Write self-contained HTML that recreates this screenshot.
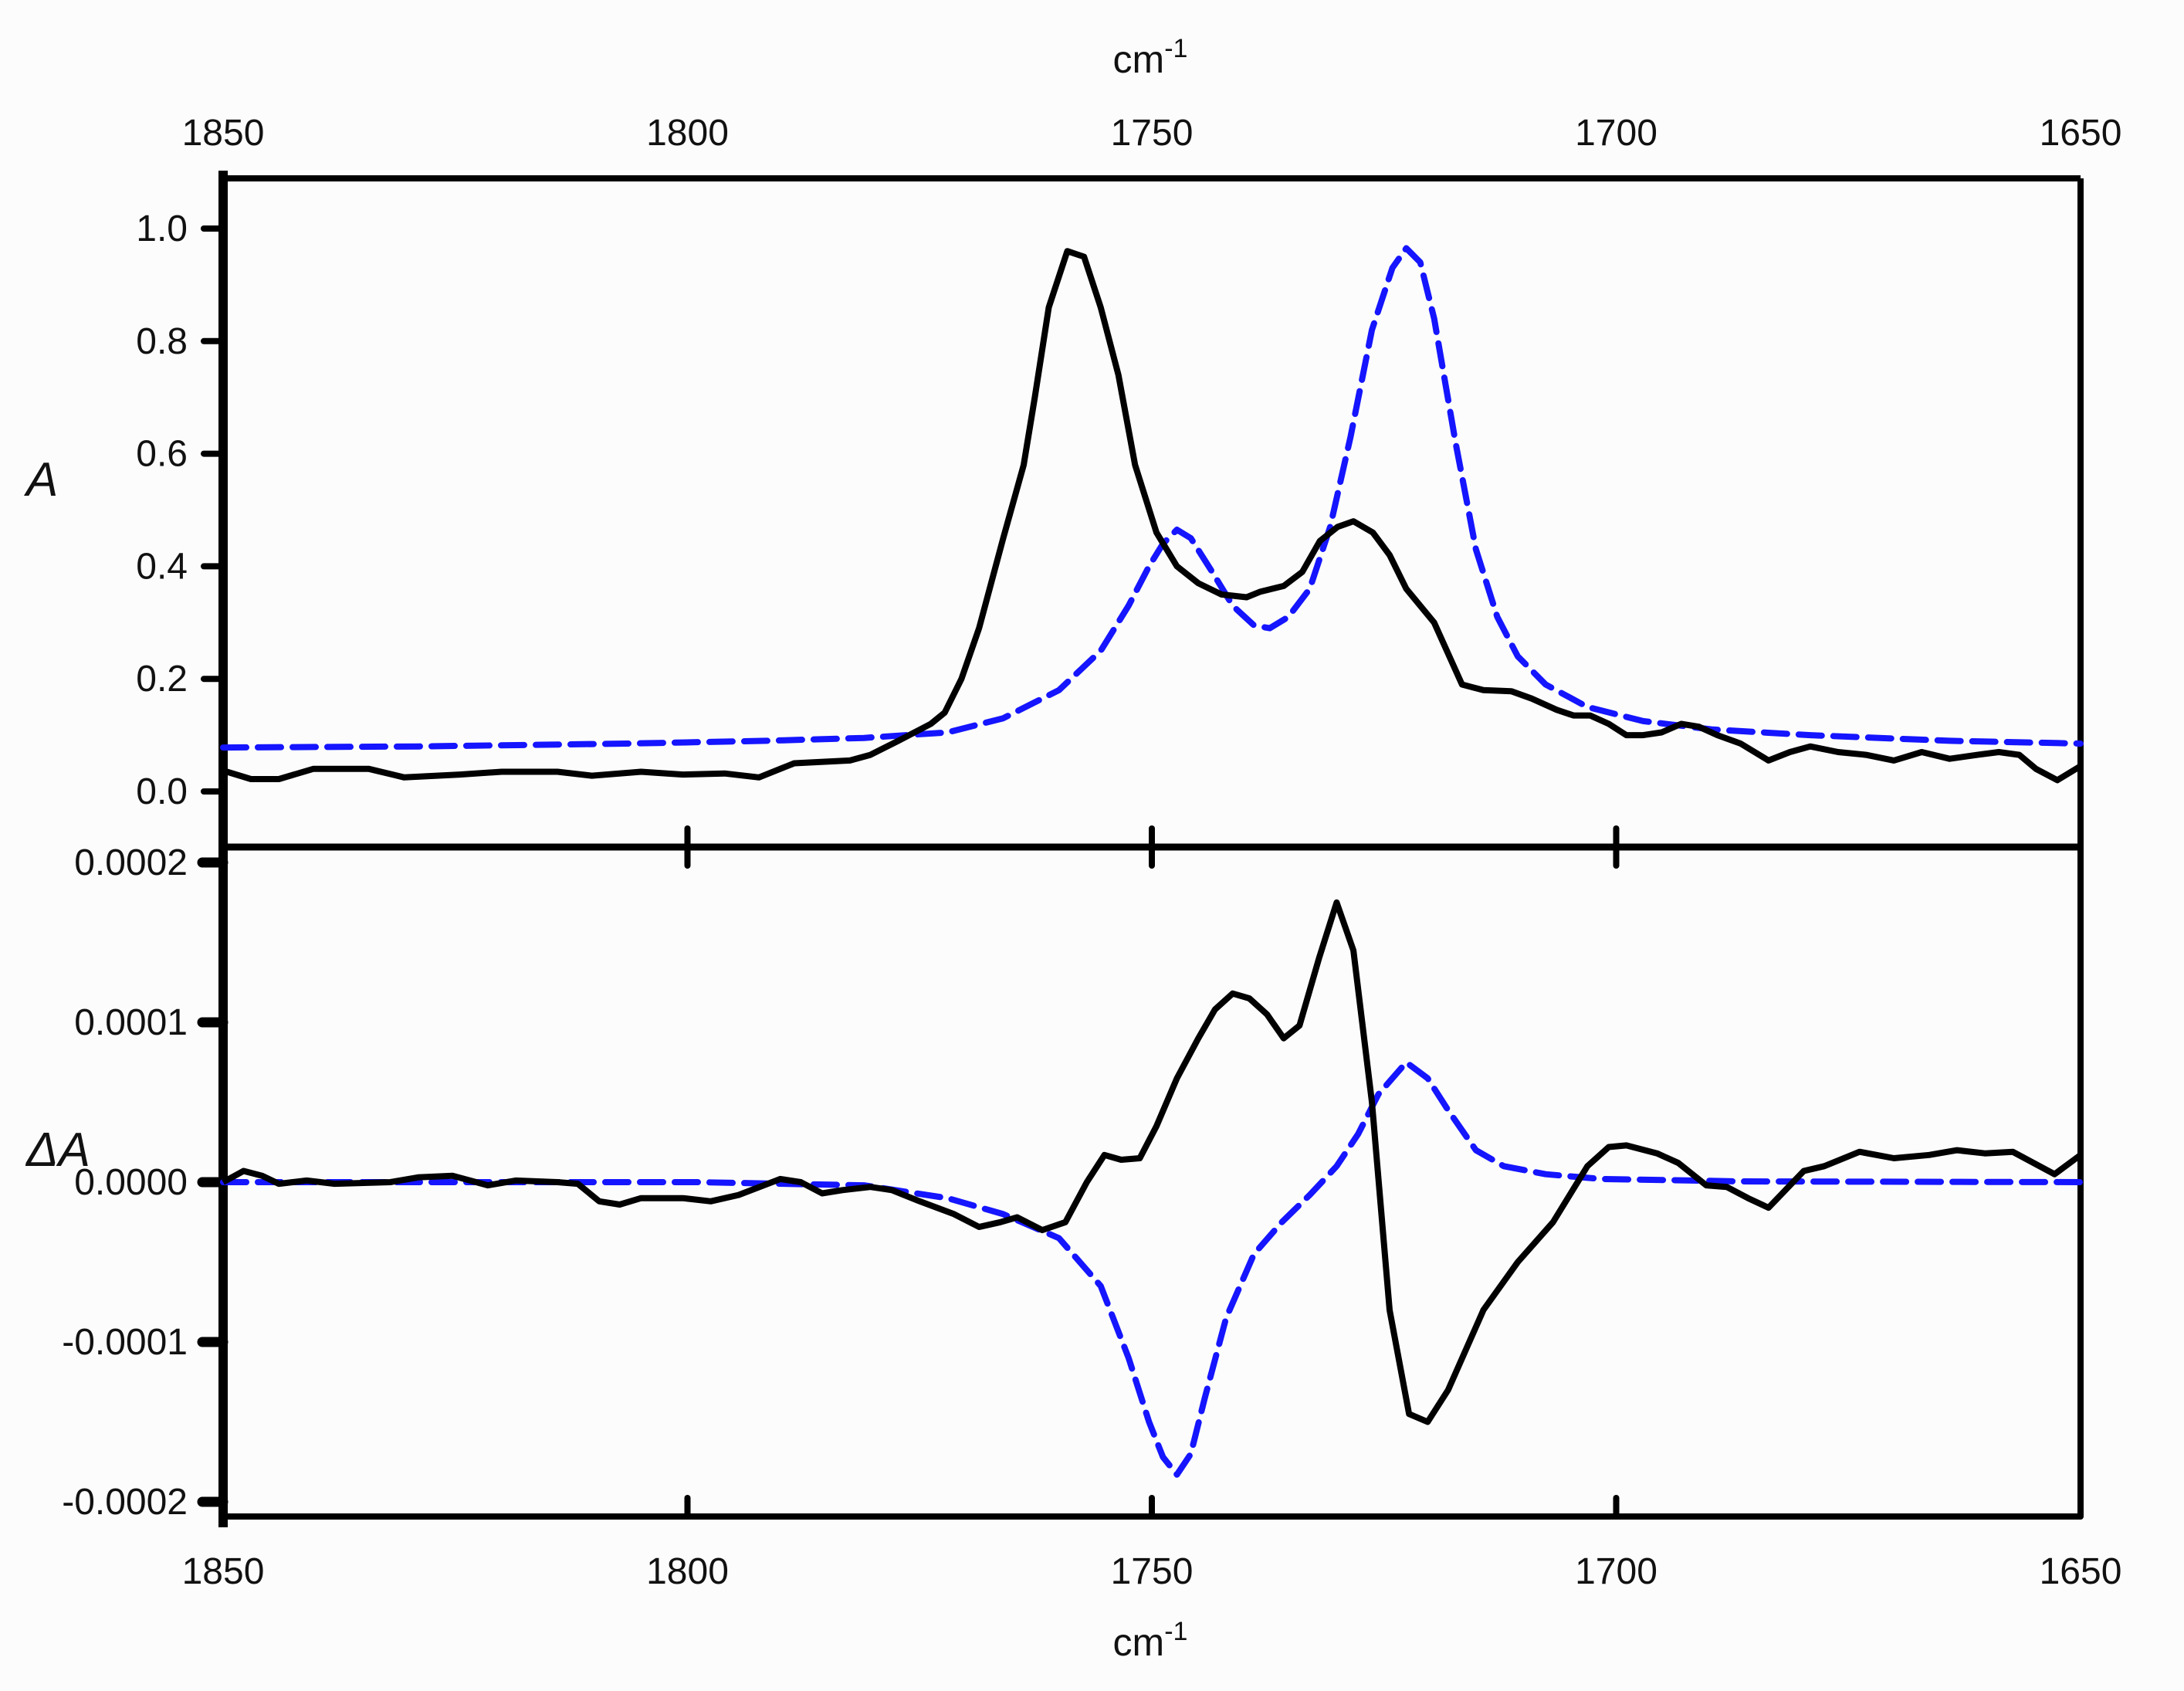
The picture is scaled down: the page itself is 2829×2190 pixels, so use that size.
<!DOCTYPE html>
<html><head><meta charset="utf-8"><style>
html,body{margin:0;padding:0;background:#fcfcfc;}
svg{display:block;}
text{font-family:"Liberation Sans",Arial,sans-serif;fill:#111;}
</style></head><body>
<svg id="chart" width="2829" height="2190" viewBox="0 0 2829 2190" xmlns="http://www.w3.org/2000/svg">
<rect x="0" y="0" width="2829" height="2190" fill="#fcfcfc"/>
<g id="axes"></g>
<g id="marks"></g>
</svg>
<script>
// ---- data (wavenumber cm-1, value) ----
const absBlackWn = [1850,1847,1844,1840.3,1834.3,1830.5,1824.5,1820,1814,1810.3,1805,1800.5,1796,1792.3,1788.5,1782.5,1780.3,1777.3,1773.8,1772.3,1770.5,1768.6,1766,1763.8,1762.6,1761.1,1759.1,1757.3,1755.5,1753.6,1751.8,1749.5,1747.3,1745,1742.5,1739.8,1738.3,1735.8,1733.8,1731.9,1730,1728.3,1726.2,1724.4,1722.6,1719.6,1716.6,1714.3,1711.3,1709.1,1706.4,1704.6,1702.8,1700.8,1698.9,1697.1,1695.1,1693,1691.1,1689.1,1686.6,1683.6,1681.3,1679.1,1676.1,1673.1,1670.1,1667.1,1664.1,1661.1,1658.8,1656.6,1654.8,1652.5,1650];
const absBlackVal = [0.037,0.022,0.022,0.04,0.04,0.025,0.03,0.035,0.035,0.028,0.035,0.03,0.032,0.025,0.05,0.055,0.065,0.09,0.12,0.14,0.2,0.29,0.45,0.58,0.7,0.86,0.96,0.95,0.86,0.74,0.58,0.46,0.4,0.37,0.35,0.345,0.355,0.365,0.39,0.445,0.47,0.48,0.46,0.42,0.36,0.3,0.19,0.18,0.178,0.165,0.145,0.135,0.135,0.12,0.1,0.1,0.105,0.12,0.115,0.1,0.085,0.055,0.07,0.08,0.07,0.065,0.055,0.07,0.058,0.065,0.07,0.065,0.04,0.02,0.045];
const absBlueWn = [1850,1829,1806.5,1791.5,1781,1772,1766,1760,1755.5,1752.5,1750.3,1748.8,1747.3,1745.8,1743.5,1741.3,1739,1737.3,1735.3,1733,1730.8,1728.6,1726.3,1724.1,1722.6,1721.1,1719.6,1717.3,1715.1,1712.8,1710.6,1707.6,1703.1,1697.1,1689.6,1679.1,1664.1,1650];
const absBlueVal = [0.078,0.08,0.085,0.09,0.095,0.105,0.13,0.18,0.25,0.33,0.40,0.44,0.465,0.45,0.39,0.33,0.295,0.29,0.31,0.36,0.47,0.63,0.82,0.93,0.965,0.94,0.84,0.62,0.43,0.31,0.24,0.19,0.15,0.125,0.11,0.1,0.09,0.085];
// difference spectra, units of 1e-4
const diffBlackWn = [1850,1847.8,1845.8,1844,1841,1838,1832,1829,1825.3,1821.5,1818.5,1814,1811.8,1809.5,1807.3,1805,1800.5,1797.5,1794.5,1790,1787.8,1785.5,1783.3,1780.3,1778,1775,1771.3,1768.6,1766.3,1764.5,1761.8,1759.3,1757,1755.1,1753.3,1751.3,1749.5,1747.3,1745,1743.2,1741.3,1739.5,1737.6,1735.8,1734.1,1732,1730.1,1728.3,1726.3,1724.4,1722.3,1720.3,1718.1,1714.3,1710.6,1706.8,1703.1,1700.8,1698.9,1695.6,1693.3,1690.3,1688.1,1685.8,1683.6,1679.8,1677.6,1673.8,1670.1,1666.3,1663.3,1660.3,1657.3,1652.8,1650];
const diffBlackVal = [0,0.07,0.04,-0.01,0.01,-0.01,0,0.03,0.04,-0.02,0.01,0,-0.01,-0.12,-0.14,-0.1,-0.1,-0.12,-0.08,0.02,0,-0.07,-0.05,-0.03,-0.05,-0.12,-0.2,-0.28,-0.25,-0.22,-0.3,-0.25,0,0.17,0.14,0.15,0.35,0.65,0.9,1.08,1.18,1.15,1.05,0.9,0.98,1.4,1.75,1.45,0.5,-0.8,-1.45,-1.5,-1.3,-0.8,-0.5,-0.25,0.1,0.22,0.23,0.18,0.12,-0.02,-0.03,-0.1,-0.16,0.07,0.1,0.19,0.15,0.17,0.2,0.18,0.19,0.05,0.17];
const diffBlueWn = [1850,1799,1781,1772,1766,1760,1755.5,1752.5,1750.3,1748.8,1747.3,1745.8,1744.3,1742,1739,1736,1733,1730.1,1727.8,1725.6,1722.6,1720.3,1718.1,1715.1,1712.1,1707.6,1701.6,1686.6,1650];
const diffBlueVal = [0,0,-0.02,-0.1,-0.2,-0.35,-0.65,-1.1,-1.5,-1.72,-1.83,-1.7,-1.35,-0.85,-0.45,-0.25,-0.08,0.1,0.3,0.55,0.75,0.65,0.45,0.2,0.1,0.05,0.02,0.005,0];
const xTicks = [1850,1800,1750,1700,1650];
const absTicks = [0.0,0.2,0.4,0.6,0.8,1.0];
const absTickLabels = ["0.0","0.2","0.4","0.6","0.8","1.0"];
const diffTicks = [-2,-1,0,1,2];
const diffTickLabels = ["-0.0002","-0.0001","0.0000","0.0001","0.0002"];

// ---- scales ----
const L=289, R=2695, TOP=231, MID=1097, BOT=1964;
const xS = wn => L + (1850-wn)/200*(R-L);
const yA = v => 1025 - v*(1025-296);
const yD = v => 1531 - v*(1531-1117)/2;

const NS="http://www.w3.org/2000/svg";
const axes=document.getElementById('axes'), marks=document.getElementById('marks');
function mk(tag, attrs, parent){const e=document.createElementNS(NS,tag);for(const k in attrs)e.setAttribute(k,attrs[k]);parent.appendChild(e);return e;}
const FS=48;

let e;
e=mk('line',{x1:L,y1:TOP-10,x2:L,y2:BOT+14,stroke:'#000','stroke-width':12},axes);


e=mk('line',{x1:R,y1:TOP,x2:R,y2:BOT,stroke:'#000','stroke-width':8},axes);


e=mk('line',{x1:L,y1:TOP,x2:R,y2:TOP,stroke:'#000','stroke-width':8},axes);


e=mk('line',{x1:L,y1:MID,x2:R,y2:MID,stroke:'#000','stroke-width':9},axes);


e=mk('line',{x1:L,y1:BOT,x2:R,y2:BOT,stroke:'#000','stroke-width':8},axes);



xTicks.forEach(t=>{
  const x=xS(t);
  e=mk('line',{x1:x,y1:MID-24,x2:x,y2:MID+24,stroke:'#000','stroke-width':8,'stroke-linecap':'round'},axes);
  
  
  e=mk('line',{x1:x,y1:BOT-24,x2:x,y2:BOT,stroke:'#000','stroke-width':8,'stroke-linecap':'round'},axes);
  
  
  e=mk('text',{x:x,y:188,'font-size':FS,'text-anchor':'middle'},axes);
  e.textContent=t;
  
  
  e=mk('text',{x:x,y:2051,'font-size':FS,'text-anchor':'middle'},axes);
  e.textContent=t;
  
  
});
absTicks.forEach((t,i)=>{
  const y=yA(t);
  e=mk('line',{x1:264,y1:y,x2:L,y2:y,stroke:'#000','stroke-width':8,'stroke-linecap':'round'},axes);
  
  
  e=mk('text',{x:243,y:y+16,'font-size':FS,'text-anchor':'end'},axes);
  e.textContent=absTickLabels[i];
  
  
});
diffTicks.forEach((t,i)=>{
  const y=yD(t);
  e=mk('line',{x1:262,y1:y,x2:L,y2:y,stroke:'#000','stroke-width':13,'stroke-linecap':'round'},axes);
  
  
  e=mk('text',{x:243,y:y+16,'font-size':FS,'text-anchor':'end'},axes);
  e.textContent=diffTickLabels[i];
  
  
});
e=mk('text',{x:1490,y:94,'font-size':50,'text-anchor':'middle'},axes);
e.innerHTML='cm<tspan dy="-20" font-size="34">-1</tspan>';


e=mk('text',{x:1490,y:2144,'font-size':50,'text-anchor':'middle'},axes);
e.innerHTML='cm<tspan dy="-20" font-size="34">-1</tspan>';


e=mk('text',{x:34,y:642,'font-size':62,'font-style':'italic'},axes);
e.textContent='A';


e=mk('text',{x:34,y:1510,'font-size':62,'font-style':'italic'},axes);
e.textContent='ΔA';



function path(wn, vals, ys){return wn.map((w,i)=>(i?'L':'M')+xS(w).toFixed(1)+' '+ys(vals[i]).toFixed(1)).join(' ');}
e=mk('path',{d:path(absBlueWn,absBlueVal,yA),fill:'none',stroke:'#1515ff','stroke-width':8,'stroke-dasharray':'30 15','stroke-linejoin':'round','stroke-linecap':'round'},marks);


e=mk('path',{d:path(absBlackWn,absBlackVal,yA),fill:'none',stroke:'#000','stroke-width':8,'stroke-linejoin':'round'},marks);


e=mk('path',{d:path(diffBlueWn,diffBlueVal,yD),fill:'none',stroke:'#1515ff','stroke-width':8,'stroke-dasharray':'30 15','stroke-linejoin':'round','stroke-linecap':'round'},marks);


e=mk('path',{d:path(diffBlackWn,diffBlackVal,yD),fill:'none',stroke:'#000','stroke-width':8,'stroke-linejoin':'round'},marks);


</script>
</body></html>
